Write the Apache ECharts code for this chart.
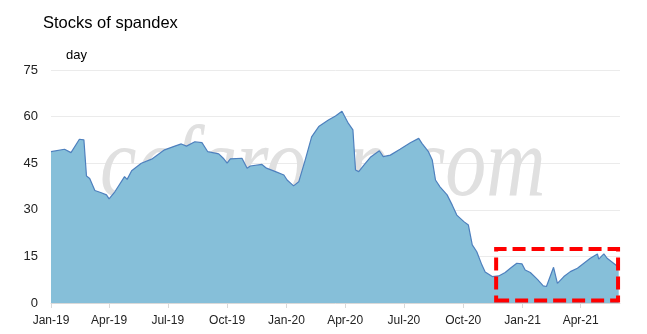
<!DOCTYPE html>
<html>
<head>
<meta charset="utf-8">
<script src="https://cdn.jsdelivr.net/npm/echarts@6/dist/echarts.min.js"></script>
<style>
html,body{margin:0;padding:0;background:#fff;}
#chart{width:647px;height:334px;}
</style>
</head>
<body>
<div id="chart"></div>
<script>
var dates = [
'2019-01-01','2019-01-22','2019-02-01','2019-02-14','2019-02-21','2019-02-25','2019-03-02','2019-03-10','2019-03-20','2019-03-28',
'2019-04-01','2019-04-10','2019-04-25','2019-04-29','2019-05-06','2019-05-21','2019-06-06','2019-06-26','2019-07-12','2019-07-22',
'2019-07-30','2019-08-12','2019-08-23','2019-09-01','2019-09-18','2019-09-25','2019-10-01','2019-10-06','2019-10-24','2019-11-01',
'2019-11-06','2019-11-24','2019-12-01','2019-12-15','2019-12-28','2020-01-02','2020-01-12','2020-01-20','2020-01-30','2020-02-09',
'2020-02-20','2020-03-06','2020-03-17','2020-03-27','2020-03-30','2020-04-06','2020-04-13','2020-04-17','2020-04-22','2020-04-30',
'2020-05-10','2020-05-24','2020-05-30','2020-06-10','2020-06-25','2020-07-11','2020-07-24','2020-07-29','2020-08-08','2020-08-14',
'2020-08-19','2020-08-26','2020-09-06','2020-09-14','2020-09-21','2020-10-02','2020-10-09','2020-10-15','2020-10-22','2020-10-30',
'2020-11-04','2020-11-15','2020-11-25','2020-12-05','2020-12-13','2020-12-23','2020-12-31','2021-01-05','2021-01-13','2021-01-24',
'2021-02-02','2021-02-07','2021-02-18','2021-02-24','2021-03-06','2021-03-16','2021-03-27','2021-04-06','2021-04-16','2021-04-27',
'2021-04-29','2021-05-07','2021-05-12','2021-05-22','2021-05-30'
];
var stocks = [
48.7,49.5,48.4,52.7,52.5,40.9,40.1,36.2,35.5,34.8,
33.5,35.8,40.7,39.8,42.6,45.0,46.3,49.3,50.5,51.2,
50.5,51.9,51.6,48.7,48.0,46.6,45.0,46.4,46.6,43.4,
44.1,44.6,43.4,42.3,41.2,39.6,37.7,39.0,46.0,53.5,
56.8,58.9,60.2,61.7,61.2,57.8,55.7,42.8,42.3,44.4,
46.9,49.0,47.1,47.6,49.5,51.6,53.0,51.4,48.7,46.0,
39.6,37.4,34.8,31.5,28.3,26.2,25.1,18.7,16.5,12.2,
10.0,8.5,8.7,9.8,11.2,12.8,12.6,10.6,9.8,7.6,
5.5,5.3,11.5,6.3,8.5,10.1,11.2,12.8,14.4,15.8,
14.1,15.8,14.4,12.8,11.5
];
var tickDates = ['2019-01-01','2019-04-01','2019-07-01','2019-10-01','2020-01-01','2020-04-01','2020-07-01','2020-10-01','2021-01-01','2021-04-01'];
var tickLabels = ['Jan-19','Apr-19','Jul-19','Oct-19','Jan-20','Apr-20','Jul-20','Oct-20','Jan-21','Apr-21'];
var axisStart = '2019-01-01';
var axisEnd = '2021-06-01';
var yTicks = [0,15,30,45,60,75];
var highlightBox = {start:'2020-11-21', end:'2021-05-29', low:0.8, high:17.4};

function ts(d){ return Date.parse(d + 'T00:00:00Z'); }
var tickValues = tickDates.map(ts);
var labelMap = {};
tickValues.forEach(function(v,i){ labelMap[v] = tickLabels[i]; });

var chart = echarts.init(document.getElementById('chart'), null, {renderer:'canvas'});
var font = '"Liberation Sans", Arial, sans-serif';
chart.setOption({
  animation:false,
  backgroundColor:'#fff',
  title:{
    text:'Stocks of spandex', left:38, top:10,
    textStyle:{fontFamily:font, fontSize:16.5, fontWeight:'normal', color:'#000'}
  },
  grid:{left:51, right:27, top:70, bottom:31},
  graphic:[{
    type:'text', x:100, y:219, z:1, scaleX:0.82,
    style:{text:'ccfgroup.com', font:'italic 100px "Liberation Serif", serif', fill:'#E0E0E0', textVerticalAlign:'bottom'}
  }],
  xAxis:{
    type:'value', min:ts(axisStart), max:ts(axisEnd),
    splitLine:{show:false},
    axisLine:{show:true, lineStyle:{color:'#D9D9D9', width:1}},
    axisTick:{show:true, length:5, lineStyle:{color:'#D9D9D9'}, customValues:tickValues},
    axisLabel:{customValues:tickValues, margin:12, fontFamily:font, fontSize:12, color:'#222',
      formatter:function(v){ return labelMap[v] || ''; }}
  },
  yAxis:{
    type:'value', min:yTicks[0], max:yTicks[yTicks.length-1], interval:15,
    name:'day', nameLocation:'end', nameGap:8,
    nameTextStyle:{fontFamily:font, fontSize:13, color:'#000', align:'left', padding:[0,0,0,15]},
    axisLine:{show:false}, axisTick:{show:false},
    axisLabel:{margin:13, fontFamily:font, fontSize:13, color:'#222'},
    splitLine:{lineStyle:{color:'#EBEBEB', width:1}}
  },
  series:[{
    type:'line', zlevel:1, z:2,
    data:dates.map(function(d,i){ return [ts(d), stocks[i]]; }),
    showSymbol:false, symbol:'none',
    lineStyle:{color:'#4E80BE', width:1.2},
    areaStyle:{color:'#86BFD9', opacity:1},
    markArea:{
      zlevel:2, z:10,
      silent:true,
      label:{show:false},
      itemStyle:{color:'rgba(0,0,0,0)', borderColor:'#FF0000', borderWidth:4, borderType:[13,6]},
      data:[[{coord:[ts(highlightBox.start), highlightBox.low]},{coord:[ts(highlightBox.end), highlightBox.high]}]]
    }
  }]
});
</script>
</body>
</html>
